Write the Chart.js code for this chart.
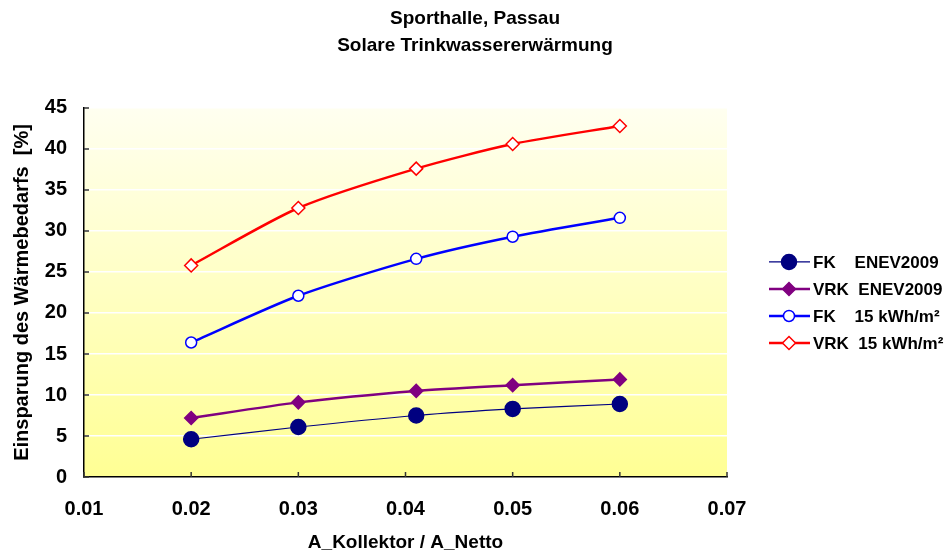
<!DOCTYPE html>
<html lang="de">
<head>
    <meta charset="UTF-8">
    <title>Sporthalle, Passau</title>
    <script src="https://cdn.jsdelivr.net/npm/chart.js@4.4.1/dist/chart.umd.min.js"></script>
    <style>
        html, body { margin: 0; padding: 0; background: #fff; }
        #wrap { width: 950px; height: 554px; }
    </style>
</head>
<body>
    <div id="wrap"><canvas id="chart" width="950" height="554"></canvas></div>

    <script>
        // Daten
        const titleLines = ['Sporthalle, Passau', 'Solare Trinkwassererwärmung'];
        const xValues = [0.02, 0.03, 0.041, 0.05, 0.06];
        const fkEnev = [4.6, 6.1, 7.5, 8.3, 8.9];
        const vrkEnev = [7.2, 9.1, 10.5, 11.2, 11.9];
        const fk15 = [16.4, 22.1, 26.6, 29.3, 31.6];
        const vrk15 = [25.8, 32.8, 37.6, 40.6, 42.8];
        const seriesNames = ['FK    ENEV2009', 'VRK  ENEV2009', 'FK    15 kWh/m²', 'VRK  15 kWh/m²'];
        const xTitle = 'A_Kollektor / A_Netto';
        const yTitle = 'Einsparung des Wärmebedarfs  [%]';

        const toPoints = (ys) => ys.map((y, i) => ({ x: xValues[i], y: y }));

        Chart.defaults.font.family = '"Liberation Sans", Arial, sans-serif';
        Chart.defaults.font.weight = 'bold';
        Chart.defaults.color = '#000';

        // Hintergrund mit Verlauf
        const plotBackground = {
            id: 'plotBackground',
            beforeDraw(chart) {
                const { ctx, chartArea: a } = chart;
                const g = ctx.createLinearGradient(0, a.top, 0, a.bottom);
                g.addColorStop(0, '#fffff0');
                g.addColorStop(1, '#ffff94');
                ctx.save();
                ctx.fillStyle = g;
                ctx.fillRect(a.left, a.top, a.right - a.left, a.bottom - a.top);
                ctx.restore();
            }
        };

        // Teilstriche nach innen
        const innerTicks = {
            id: 'innerTicks',
            afterDatasetsDraw(chart) {
                const { ctx, chartArea: a } = chart;
                const xs = chart.scales.x, ys = chart.scales.y;
                ctx.save();
                ctx.strokeStyle = '#333';
                ctx.lineWidth = 1.5;
                ctx.beginPath();
                xs.ticks.forEach((t, i) => {
                    const px = xs.getPixelForTick(i);
                    ctx.moveTo(px, a.bottom);
                    ctx.lineTo(px, a.bottom - 5);
                });
                ys.ticks.forEach((t, i) => {
                    const py = ys.getPixelForTick(i);
                    ctx.moveTo(a.left, py);
                    ctx.lineTo(a.left + 5, py);
                });
                ctx.stroke();
                ctx.restore();
            }
        };

        // Legende rechts: Linie mit Marker
        const sideLegend = {
            id: 'sideLegend',
            afterDraw(chart) {
                const { ctx, chartArea: a } = chart;
                const x0 = a.right + 42;
                let y = a.top + 154;
                chart.data.datasets.forEach((ds) => {
                    ctx.save();
                    ctx.strokeStyle = ds.borderColor;
                    ctx.lineWidth = ds.borderWidth;
                    ctx.beginPath();
                    ctx.moveTo(x0, y);
                    ctx.lineTo(x0 + 41, y);
                    ctx.stroke();
                    ctx.fillStyle = ds.pointBackgroundColor;
                    ctx.strokeStyle = ds.pointBorderColor;
                    ctx.lineWidth = ds.pointBorderWidth;
                    Chart.helpers.drawPoint(ctx, {
                        pointStyle: ds.pointStyle,
                        radius: ds.pointRadius,
                        borderWidth: ds.pointBorderWidth
                    }, x0 + 20, y);
                    ctx.fillStyle = '#000';
                    ctx.font = 'bold 17px "Liberation Sans", Arial, sans-serif';
                    ctx.textBaseline = 'middle';
                    ctx.fillText(ds.label, x0 + 44, y + 1);
                    ctx.restore();
                    y += 27;
                });
            }
        };

        const makeSet = (label, values, color, lineWidth, style, radius, fill) => ({
            label: label,
            data: toPoints(values),
            borderColor: color,
            borderWidth: lineWidth,
            pointStyle: style,
            pointRadius: radius,
            pointHoverRadius: radius,
            pointBackgroundColor: fill,
            pointBorderColor: color,
            pointBorderWidth: 1.5,
            tension: 0.25,
            fill: false
        });

        new Chart(document.getElementById('chart'), {
            type: 'line',
            data: {
                datasets: [
                    makeSet(seriesNames[0], fkEnev, '#000080', 1.2, 'circle', 7.5, '#000080'),
                    makeSet(seriesNames[1], vrkEnev, '#800080', 2.5, 'rectRot', 6.5, '#800080'),
                    makeSet(seriesNames[2], fk15, '#0000ff', 2.5, 'circle', 5.5, '#ffffff'),
                    makeSet(seriesNames[3], vrk15, '#ff0000', 2.5, 'rectRot', 6.5, '#ffffff')
                ]
            },
            options: {
                responsive: false,
                animation: false,
                layout: { padding: 0 },
                plugins: {
                    legend: { display: false },
                    tooltip: { enabled: false },
                    title: {
                        display: true,
                        text: titleLines,
                        font: { size: 19, weight: 'bold', lineHeight: 1.42 },
                        color: '#000',
                        padding: { top: 5, bottom: 49 }
                    }
                },
                scales: {
                    x: {
                        type: 'linear',
                        min: 0.01,
                        max: 0.07,
                        grid: { display: false },
                        border: { display: true, color: '#000', width: 1.5 },
                        ticks: {
                            stepSize: 0.01,
                            padding: 12,
                            font: { size: 20, weight: 'bold' },
                            callback: (v) => v.toFixed(2)
                        },
                        title: {
                            display: true,
                            text: xTitle,
                            font: { size: 19, weight: 'bold' },
                            padding: { top: 0, bottom: 0 }
                        },
                        afterFit: (s) => { s.height = 77; }
                    },
                    y: {
                        min: 0,
                        max: 45,
                        grid: { color: '#ffffff', lineWidth: 1.5, drawTicks: false },
                        border: { display: true, color: '#000', width: 1.5 },
                        ticks: {
                            stepSize: 5,
                            padding: 17,
                            font: { size: 20, weight: 'bold' }
                        },
                        title: {
                            display: true,
                            text: yTitle,
                            font: { size: 20, weight: 'bold' },
                            padding: { top: 10, bottom: 0 }
                        },
                        afterFit: (s) => { s.width = 84; }
                    },
                    legendSpace: {
                        type: 'linear',
                        position: 'right',
                        grid: { display: false },
                        border: { display: false },
                        ticks: { display: false },
                        afterFit: (s) => { s.width = 223; }
                    }
                }
            },
            plugins: [plotBackground, innerTicks, sideLegend]
        });
    </script>
</body>
</html>
